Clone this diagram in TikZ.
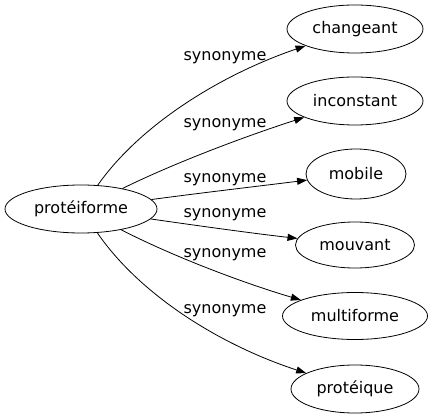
\documentclass[tikz,border=0pt]{standalone}
\usepackage{fontspec}
\setmainfont{DejaVu Sans}
\usetikzlibrary{shapes.geometric}
\usetikzlibrary{arrows.meta}

\begin{document}
\begin{tikzpicture}[x=1pt, y=-1pt, line width=0.8pt,
  word/.style={ellipse, draw, inner sep=0pt, minimum height=48, font=\fontsize{16}{19}\selectfont},
  syn/.style={-{Triangle[length=10pt,width=7pt]}},
  lbl/.style={inner sep=0pt, anchor=base, font=\fontsize{16}{19}\selectfont}]
  \useasboundingbox (0,0) rectangle (433,419);
  \node[word, minimum width=152] (n0) at (81,209) {protéiforme};
  \node[word, minimum width=136] (n1) at (355,29) {changeant};
  \node[word, minimum width=136] (n2) at (355,101) {inconstant};
  \node[word, minimum width=100, minimum height=50] (n3) at (356,174) {mobile};
  \node[word, minimum width=119, minimum height=46] (n4) at (355,245) {mouvant};
  \node[word, minimum width=145, minimum height=47] (n5) at (355,316) {multiforme};
  \node[word, minimum width=128] (n6) at (355,389) {protéique};
  \foreach \to/\a/\b in {n1/{140,125}/{220,75}, n2/{170,165}/{240,138},
      n3/{200,193}/{260,186}, n4/{200,226}/{250,233},
      n5/{170,255}/{240,282}, n6/{140,295}/{220,345}}
    \draw[syn] (n0) .. controls (\a) and (\b) .. (\to);
  \foreach \y [count=\i] in {61,128,183,218,258,313}
    \node[lbl] (l\i) at (225,\y) {synonyme};
\end{tikzpicture}
\end{document}
